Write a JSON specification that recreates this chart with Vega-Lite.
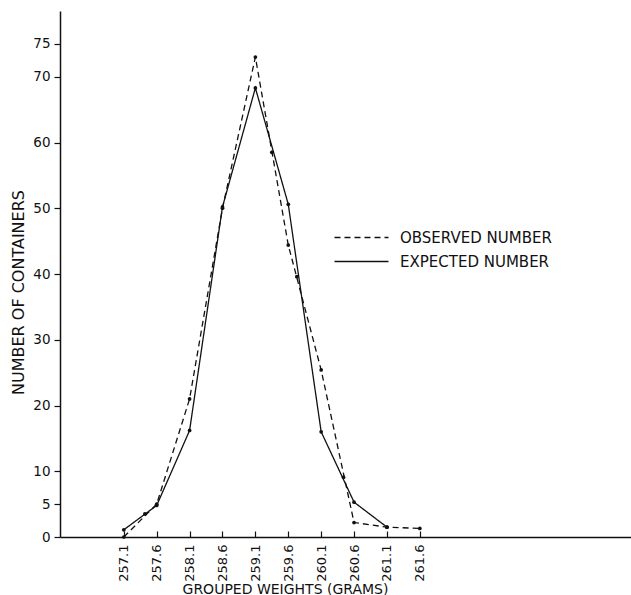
{
  "$schema": "https://vega.github.io/schema/vega-lite/v6.json",
  "width": 571,
  "height": 526,
  "autosize": "none",
  "padding": {"left": 60, "top": 11, "right": 0, "bottom": 58},
  "background": "white",
  "config": {
    "view": {"stroke": null},
    "font": "DejaVu Sans",
    "axis": {"domainColor": "#111", "domainWidth": 1.5, "tickColor": "#111", "tickWidth": 1.2, "labelColor": "#111", "titleColor": "#111", "grid": false, "labelFont": "DejaVu Sans", "titleFont": "DejaVu Sans", "titleFontWeight": "normal"}
  },
  "datasets": {
    "series": [
      {"weight": 257.1, "count": 0, "series": "OBSERVED NUMBER"},
      {"weight": 257.6, "count": 5, "series": "OBSERVED NUMBER"},
      {"weight": 258.1, "count": 21, "series": "OBSERVED NUMBER"},
      {"weight": 258.6, "count": 50, "series": "OBSERVED NUMBER"},
      {"weight": 259.1, "count": 73, "series": "OBSERVED NUMBER"},
      {"weight": 259.6, "count": 44.4, "series": "OBSERVED NUMBER"},
      {"weight": 260.1, "count": 25.4, "series": "OBSERVED NUMBER"},
      {"weight": 260.6, "count": 2.2, "series": "OBSERVED NUMBER"},
      {"weight": 261.1, "count": 1.5, "series": "OBSERVED NUMBER"},
      {"weight": 261.6, "count": 1.3, "series": "OBSERVED NUMBER"},
      {"weight": 257.1, "count": 1.1, "series": "EXPECTED NUMBER"},
      {"weight": 257.6, "count": 4.8, "series": "EXPECTED NUMBER"},
      {"weight": 258.1, "count": 16.2, "series": "EXPECTED NUMBER"},
      {"weight": 258.6, "count": 50.2, "series": "EXPECTED NUMBER"},
      {"weight": 259.1, "count": 68.3, "series": "EXPECTED NUMBER"},
      {"weight": 259.6, "count": 50.6, "series": "EXPECTED NUMBER"},
      {"weight": 260.1, "count": 16, "series": "EXPECTED NUMBER"},
      {"weight": 260.6, "count": 5.3, "series": "EXPECTED NUMBER"},
      {"weight": 261.1, "count": 1.5, "series": "EXPECTED NUMBER"}
    ],
    "dots": [
      {"weight": 257.42, "count": 3.5},
      {"weight": 259.35, "count": 58.5},
      {"weight": 259.73, "count": 39.6},
      {"weight": 260.44, "count": 9.1}
    ]
  },
  "layer": [
    {
      "data": {"name": "series"},
      "mark": {"type": "line", "color": "#111", "strokeWidth": 1.3},
      "encoding": {
        "x": {"field": "weight", "type": "quantitative", "scale": {"domain": [256.13, 264.81], "nice": false, "zero": false},
          "axis": {"values": [257.1, 257.6, 258.1, 258.6, 259.1, 259.6, 260.1, 260.6, 261.1, 261.6], "format": ".1f", "labelAngle": -90, "labelAlign": "right", "labelBaseline": "middle", "labelFontSize": 13, "tickSize": -6, "labelPadding": 13, "title": "GROUPED WEIGHTS (GRAMS)", "titleFontSize": 14, "titleX": 225, "titleY": 56, "titleBaseline": "alphabetic", "titleAlign": "center", "titleAnchor": null}},
        "y": {"field": "count", "type": "quantitative", "scale": {"domain": [0, 80], "nice": false},
          "axis": {"values": [0, 5, 10, 20, 30, 40, 50, 60, 70, 75], "labelFontSize": 13.5, "tickSize": 6, "labelPadding": 4, "title": "NUMBER OF CONTAINERS", "titleFontSize": 16, "titleX": -42, "titleY": 281, "titleAngle": -90, "titleAlign": "center", "titleBaseline": "middle", "titleAnchor": null}},
        "strokeDash": {"field": "series", "type": "nominal",
          "scale": {"domain": ["OBSERVED NUMBER", "EXPECTED NUMBER"], "range": [[6, 4], [1, 0]]},
          "legend": {"title": null, "orient": "none", "legendX": 294, "legendY": 219, "padding": 0, "symbolType": "M-5.4,0H5.4", "symbolSize": 100, "symbolStrokeColor": "#111", "symbolStrokeWidth": 1.3, "labelFontSize": 15, "labelColor": "#111", "labelFont": "DejaVu Sans", "labelOffset": 31, "rowPadding": 8}},
        "detail": {"field": "series"}
      }
    },
    {
      "data": {"name": "series"},
      "mark": {"type": "point", "filled": true, "color": "#111", "size": 14, "opacity": 1},
      "encoding": {
        "x": {"field": "weight", "type": "quantitative"},
        "y": {"field": "count", "type": "quantitative"}
      }
    },
    {
      "data": {"name": "dots"},
      "mark": {"type": "point", "filled": true, "color": "#111", "size": 14, "opacity": 1},
      "encoding": {
        "x": {"field": "weight", "type": "quantitative"},
        "y": {"field": "count", "type": "quantitative"}
      }
    }
  ]
}
